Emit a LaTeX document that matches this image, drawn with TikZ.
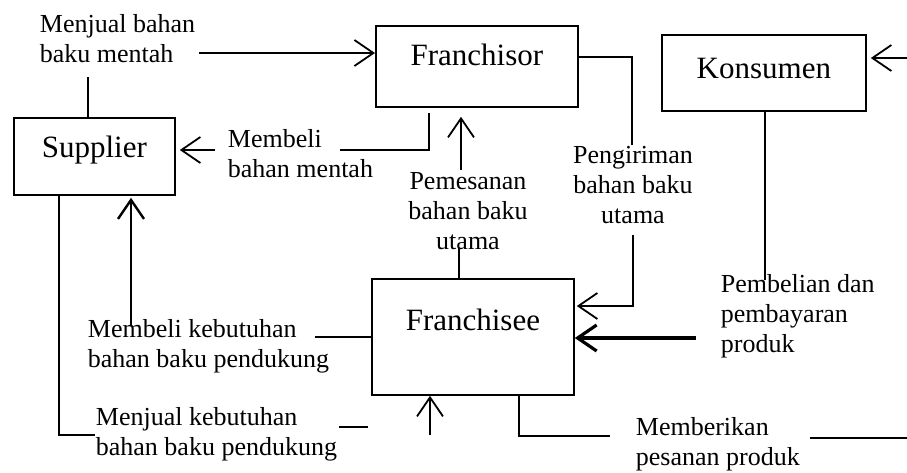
\documentclass[tikz,border=0pt]{standalone}
\usepackage{fontspec}
\setmainfont{Liberation Serif}
\usetikzlibrary{arrows.meta}

\begin{document}
\begin{tikzpicture}[x=1pt, y=-1pt, line width=1.8pt,
	arrow/.style={-{Straight Barb[length=19pt,width=26pt]}},
	party/.style={draw, rectangle, inner sep=0pt, anchor=north west, font=\fontsize{31}{34}\selectfont},
	flow/.style={inner sep=0pt, anchor=north west, align=left, font=\fontsize{26}{30}\selectfont},
	flowc/.style={flow, anchor=north, align=center}]
	\useasboundingbox (0,0) rectangle (907,472);

	% pihak-pihak
	\node[party, minimum width=202pt, text height=40pt, text depth=41pt] (franchisor) at (375,25) {Franchisor};
	\node[party, minimum width=204pt, text height=44pt, text depth=32pt] (konsumen) at (661,34) {Konsumen};
	\node[party, minimum width=161pt, text height=40pt, text depth=37pt] (supplier) at (13,117) {Supplier};
	\node[party, minimum width=202pt, text height=52pt, text depth=64pt] (franchisee) at (371,278) {Franchisee};

	% keterangan aliran
	\node[flow] (jualmentah) at (39,14) {Menjual bahan\\baku mentah};
	\node[flow] (belimentah) at (227,129) {Membeli\\bahan mentah};
	\node[flowc] (pesanutama) at (468,172) {Pemesanan\\bahan baku\\utama};
	\node[flowc] (kirimutama) at (633,145) {Pengiriman\\bahan baku\\utama};
	\node[flow] (belipendukung) at (87,319) {Membeli kebutuhan\\bahan baku pendukung};
	\node[flow] (jualpendukung) at (95,407) {Menjual kebutuhan\\bahan baku pendukung};
	\node[flow] (bayarproduk) at (720,274) {Pembelian dan\\pembayaran\\produk};
	\node[flow] (pesanproduk) at (635,417) {Memberikan\\pesanan produk};

	% supplier -> franchisor
	\coordinate (c1) at (88,77);
	\draw (c1) -- (c1 |- supplier.north);
	\coordinate (c2) at (199,53);
	\draw[arrow] (c2) -- (c2 -| franchisor.west);

	% franchisor -> supplier
	\coordinate (c3) at (340,150);
	\coordinate (c3b) at (429,113);
	\draw (c3) -| (c3b);
	\coordinate (c4) at (215,150);
	\draw[arrow, shorten >=4pt] (c4) -- (c4 -| supplier.east);

	% franchisee -> franchisor
	\coordinate (c5) at (461,170);
	\draw[arrow, shorten >=9pt] (c5) -- (c5 |- franchisor.south);
	\coordinate (c6) at (459,248);
	\draw (c6) -- (c6 |- franchisee.north);

	% franchisor -> franchisee
	\coordinate (c7t) at (632,57);
	\coordinate (c7) at (632,145);
	\draw (c7t -| franchisor.east) -| (c7);
	\coordinate (c8) at (633,235);
	\coordinate (c8b) at (633,306);
	\draw[arrow, shorten >=2pt] (c8) -- (c8b) -- (c8b -| franchisee.east);

	% konsumen -> franchisee
	\coordinate (c9) at (765,280);
	\draw (c9 |- konsumen.south) -- (c9);
	\coordinate (c10) at (907,58);
	\draw[arrow, shorten >=4pt] (c10) -- (c10 -| konsumen.east);
	\coordinate (c11) at (696,338);
	\draw[arrow, line width=3.2pt] (c11) -- (c11 -| franchisee.east);

	% franchisee -> supplier
	\coordinate (c12) at (131,325);
	\draw[arrow, line width=2.4pt, shorten >=2pt] (c12) -- (c12 |- supplier.south);
	\coordinate (c13) at (315,337);
	\draw (c13) -- (c13 -| franchisee.west);

	% supplier -> franchisee
	\coordinate (c14) at (59,435);
	\coordinate (c14e) at (95,435);
	\draw (c14 |- supplier.south) -- (c14) -- (c14e);
	\coordinate (c15) at (339,427);
	\coordinate (c15e) at (368,427);
	\draw (c15) -- (c15e);
	\coordinate (c16) at (430,435);
	\draw[arrow] (c16) -- (c16 |- franchisee.south);

	% franchisee -> konsumen
	\coordinate (c17) at (519,436);
	\coordinate (c17e) at (610,436);
	\draw (c17 |- franchisee.south) -- (c17) -- (c17e);
	\coordinate (c18) at (810,438);
	\coordinate (c18e) at (907,438);
	\draw (c18) -- (c18e);
\end{tikzpicture}
\end{document}
